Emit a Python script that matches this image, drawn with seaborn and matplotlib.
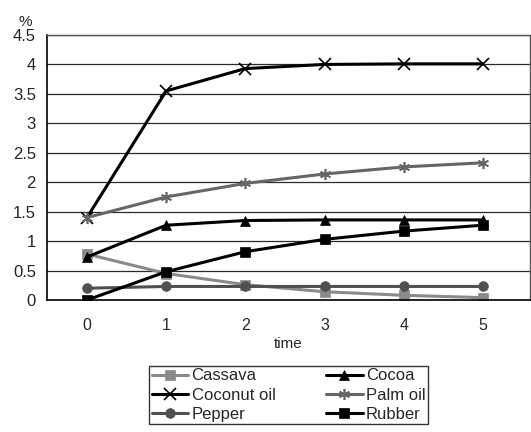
import matplotlib
matplotlib.use("Agg")
import matplotlib.pyplot as plt
import seaborn as sns
import pandas as pd

time = [0, 1, 2, 3, 4, 5]
cassava = [0.78, 0.45, 0.26, 0.14, 0.08, 0.04]
cocoa = [0.73, 1.27, 1.35, 1.36, 1.36, 1.36]
coconut_oil = [1.40, 3.55, 3.93, 4.00, 4.01, 4.01]
palm_oil = [1.40, 1.75, 1.98, 2.14, 2.26, 2.33]
pepper = [0.20, 0.23, 0.23, 0.23, 0.23, 0.23]
rubber = [0.00, 0.48, 0.82, 1.03, 1.17, 1.27]

series = {
    "Cassava": cassava,
    "Cocoa": cocoa,
    "Coconut oil": coconut_oil,
    "Palm oil": palm_oil,
    "Pepper": pepper,
    "Rubber": rubber,
}
rows = []
for name, vals in series.items():
    for t, v in zip(time, vals):
        rows.append({"time": t, "value": v, "crop": name})
df = pd.DataFrame(rows)

palette = {
    "Cassava": "#8a8a8a",
    "Cocoa": "#000000",
    "Coconut oil": "#000000",
    "Palm oil": "#666666",
    "Pepper": "#505050",
    "Rubber": "#000000",
}
markers = {
    "Cassava": "s",
    "Cocoa": "^",
    "Coconut oil": "x",
    "Palm oil": (6, 2, 0),
    "Pepper": "o",
    "Rubber": "s",
}
sizes = {"Cassava": 7, "Cocoa": 7, "Coconut oil": 9, "Palm oil": 8, "Pepper": 7, "Rubber": 7}

sns.set_style("white")
plt.rcParams["font.family"] = ["Liberation Sans", "DejaVu Sans"]

fig = plt.figure(figsize=(5.31, 4.32), dpi=100)
ax = fig.add_axes([47 / 531, 1 - 300 / 432, (530 - 47) / 531, (300 - 35) / 432])

for name in series:
    sub = df[df["crop"] == name]
    sns.lineplot(data=sub, x="time", y="value", ax=ax, color=palette[name],
                 marker=markers[name], markersize=sizes[name], linewidth=2.2,
                 markeredgewidth=1.2 if name in ("Coconut oil", "Palm oil") else 0.5,
                 markeredgecolor=palette[name], label=name, legend=False)

ax.set_xlim(-0.505, 5.595)
ax.set_ylim(0, 4.5)
ax.set_yticks([0, 0.5, 1, 1.5, 2, 2.5, 3, 3.5, 4, 4.5])
ax.set_yticklabels(["0", "0.5", "1", "1.5", "2", "2.5", "3", "3.5", "4", "4.5"])
ax.set_xticks(time)
ax.set_xticks([-0.5, 0.5, 1.5, 2.5, 3.5, 4.5, 5.5], minor=True)
ax.tick_params(axis="x", which="major", length=0, pad=13, labelsize=11.5)
ax.tick_params(axis="x", which="minor", length=6, width=1, color="black", direction="out")
ax.tick_params(axis="y", which="major", length=6, width=1, color="black", direction="out", labelsize=12, pad=2)
ax.yaxis.grid(True, color="#2a2a2a", linewidth=0.9)
ax.set_axisbelow(True)
for s in ["top", "right"]:
    ax.spines[s].set_color("#555555")
    ax.spines[s].set_linewidth(1)
for s in ["left", "bottom"]:
    ax.spines[s].set_color("black")
    ax.spines[s].set_linewidth(1.2)
ax.set_xlabel("time", fontsize=11, labelpad=3)
ax.set_ylabel("")
fig.text(25 / 531, 1 - 22 / 432, "%", fontsize=11, ha="center", va="center")

handles, labels = ax.get_legend_handles_labels()
order = ["Cassava", "Coconut oil", "Pepper", "Cocoa", "Palm oil", "Rubber"]
hmap = dict(zip(labels, handles))
leg = fig.legend([hmap[o] for o in order], order, ncol=2,
                 loc="center", bbox_to_anchor=(149 / 531, 1 - 428 / 432, (428 - 149) / 531, (428 - 362) / 432),
                 mode="expand", frameon=True, fancybox=False, fontsize=12,
                 handlelength=2.2, handletextpad=0.2, borderpad=0.15, labelspacing=0.25,
                 columnspacing=1.0, borderaxespad=0)
leg.get_frame().set_edgecolor("black")
leg.get_frame().set_linewidth(1)

fig.savefig("out.png", dpi=100)
